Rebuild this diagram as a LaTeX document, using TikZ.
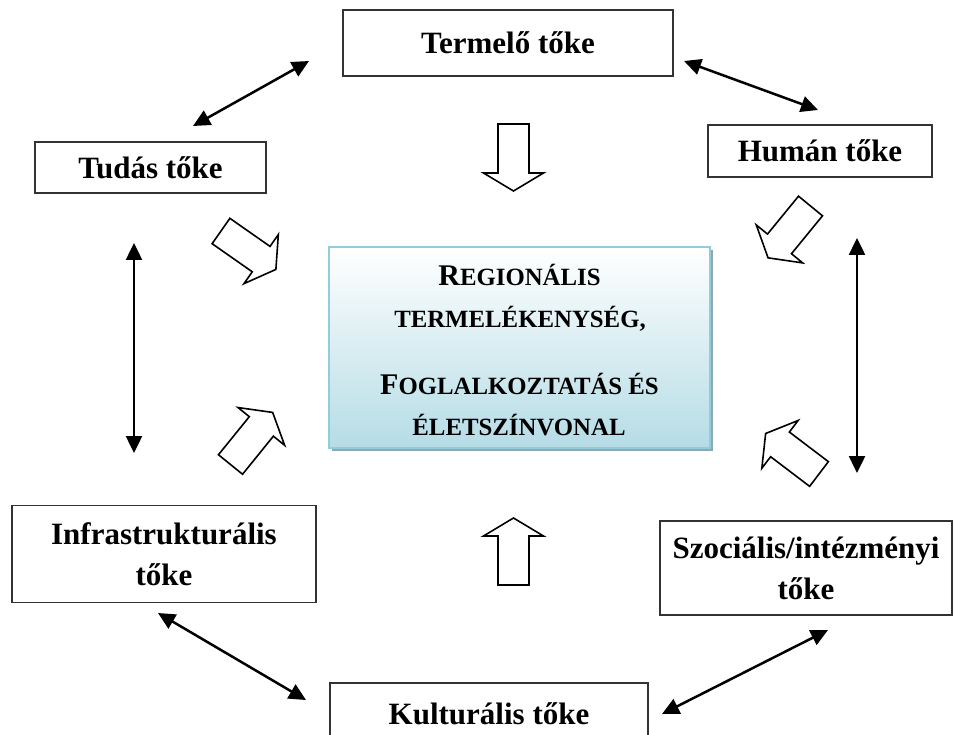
\documentclass[tikz,border=0pt]{standalone}
\usepackage{fontspec}
\setmainfont{Liberation Serif}
\usetikzlibrary{arrows.meta,shadows}
\definecolor{boxblue}{HTML}{92CDDC}
\definecolor{gradblue}{HTML}{B5DCE6}
\definecolor{shadowblue}{HTML}{8FA7B2}
\newcommand{\smc}[1]{{\fontsize{24.8}{30}\selectfont #1}}
\begin{document}
\begin{tikzpicture}[x=1pt,y=-1pt,
  capbox/.style={draw=black!80, line width=1.3pt, fill=white, inner sep=0pt,
    font=\fontsize{31}{41}\selectfont\bfseries, align=center},
  dbl/.style={line width=2.5pt, {Triangle[length=17pt,width=16pt]}-{Triangle[length=17pt,width=16pt]}},
  centerline/.style={anchor=base, inner sep=0pt, font=\fontsize{30}{36}\selectfont\bfseries},
  blockarrow/.pic={\draw[line width=1.6pt, line join=miter, fill=white]
    (0,-15.5) -- (49,-15.5) -- (49,-30) -- (67,0) -- (49,30) -- (49,15.5) -- (0,15.5) -- cycle;}
]
\useasboundingbox (0,0) rectangle (958,735);
\fill[white] (0,0) rectangle (958,735);

% boxes
\node[capbox, minimum width=330pt, minimum height=66pt] (termelo) at (508,43) {Termelő tőke};
\node[capbox, minimum width=231pt, minimum height=51pt] (tudas) at (150.5,167.5) {Tudás tőke};
\node[capbox, minimum width=224pt, minimum height=52pt] (human) at (820,151) {Humán tőke};
\node[capbox, minimum width=304pt, minimum height=97pt] (infra) at (164,554) {Infrastrukturális\\tőke};
\node[capbox, minimum width=292pt, minimum height=94pt] (szoc) at (806,568) {Szociális/intézményi\\tőke};
\node[capbox, minimum width=318pt, minimum height=62pt] (kult) at (489,714) {Kulturális tőke};

% center box
\node[draw=boxblue, line width=1.5pt, top color=white, bottom color=gradblue,
  minimum width=381pt, minimum height=201pt, inner sep=0pt,
  drop shadow={shadow xshift=3pt, shadow yshift=-3pt, fill=shadowblue, opacity=1}] (center) at (519.5,347.5) {};
\node[centerline] (l1) at (519.5,286) {R\smc{EGIONÁLIS}};
\node[centerline] (l2) at (520,327) {\smc{TERMELÉKENYSÉG,}};
\node[centerline] (l3) at (519.5,394) {F\smc{OGLALKOZTATÁS ÉS}};
\node[centerline] (l4) at (519,435) {\smc{ÉLETSZÍNVONAL}};

% block arrows
\pic[rotate=-90] at (513.5,124) {blockarrow};
\pic[rotate=90] at (513.5,585) {blockarrow};
\pic[rotate=-35] at (221,231) {blockarrow};
\pic[rotate=-129.3] at (810.5,206) {blockarrow};
\pic[rotate=51] at (230.5,464.5) {blockarrow};
\pic[rotate=142.8] at (819,474) {blockarrow};

% double arrows
\coordinate (a1) at (193,126); \coordinate (a2) at (309,61);
\coordinate (b1) at (684,61);  \coordinate (b2) at (818,110);
\coordinate (c1) at (134,243); \coordinate (c2) at (134,453);
\coordinate (d1) at (857,238); \coordinate (d2) at (857,473);
\coordinate (e1) at (158,613); \coordinate (e2) at (306,700);
\coordinate (f1) at (828,630); \coordinate (f2) at (662,714);
\draw[dbl] (a1) -- (a2);
\draw[dbl] (b1) -- (b2);
\draw[dbl] (c1) -- (c2);
\draw[dbl] (d1) -- (d2);
\draw[dbl] (e1) -- (e2);
\draw[dbl] (f1) -- (f2);
\end{tikzpicture}
\end{document}
